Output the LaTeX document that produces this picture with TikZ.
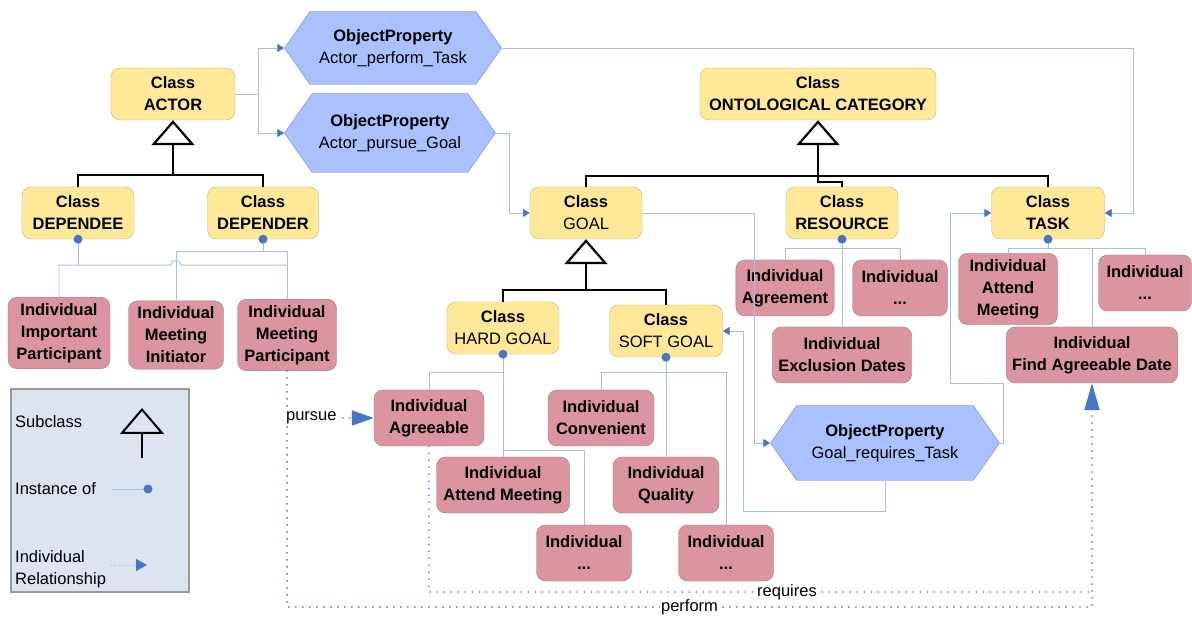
\documentclass[tikz,border=0pt]{standalone}
\usepackage{fontspec}
\setmainfont{Liberation Sans}
\usetikzlibrary{arrows.meta,shapes.symbols}

\definecolor{classfill}{RGB}{255,233,153}
\definecolor{classborder}{RGB}{196,178,108}
\definecolor{indfill}{RGB}{219,149,161}
\definecolor{indborder}{RGB}{160,118,126}
\definecolor{propfill}{RGB}{171,193,255}
\definecolor{propborder}{RGB}{112,136,200}
\definecolor{instline}{RGB}{168,192,232}
\definecolor{instdot}{RGB}{70,118,196}
\definecolor{legendfill}{RGB}{220,228,240}
\definecolor{legendborder}{RGB}{154,154,154}

\newcommand{\diagramfont}{\fontsize{16.5}{22}\selectfont}

\tikzstyle{class}=[draw=classborder,fill=classfill,rounded corners=9pt,align=center,
  minimum height=52pt,inner sep=4pt,font=\diagramfont\bfseries]
\tikzstyle{individual}=[draw=indborder,fill=indfill,rounded corners=9pt,align=center,
  minimum height=56pt,inner xsep=6pt,inner ysep=6pt,font=\diagramfont\bfseries]
\tikzstyle{property}=[signal,signal to=east and west,signal pointer angle=110,
  draw=propborder,fill=propfill,align=center,inner sep=4pt,font=\diagramfont]
\tikzstyle{hierarchy}=[draw,line width=2.2pt]
\tikzstyle{subclass}=[draw,line width=2.2pt,-{Triangle[open,length=25pt,width=43pt]}]
\tikzstyle{instance}=[draw=instline,line width=0.9pt]
\tikzstyle{instance dot}=[fill=instdot]
\tikzstyle{relation}=[draw=instline,line width=0.9pt,-{Triangle[length=7pt,width=8pt,color=instdot]}]
\tikzstyle{individual relation}=[draw=instdot,line width=1.8pt,line cap=round,dash pattern=on 0pt off 7pt,
  -{Triangle[length=27pt,width=15pt,line cap=butt]}]
\tikzstyle{rel label}=[fill=white,inner sep=1pt,font=\diagramfont]
\tikzstyle{legend text}=[inner sep=0pt,align=left,font=\diagramfont]

\begin{document}
\begin{tikzpicture}[x=1pt,y=-1pt]
\useasboundingbox (0,0) rectangle (1192,617);

% classes
\foreach \pos/\name/\boxw/\txt in {{(173,94)/ACTOR/124/{Class\\ACTOR}},
    {(78,213)/DEPENDEE/112/{Class\\DEPENDEE}}, {(263,213)/DEPENDER/111/{Class\\DEPENDER}},
    {(818,94)/ONTO/236/{Class\\ONTOLOGICAL CATEGORY}},
    {(586,213)/GOAL/112/{Class\\\textmd{GOAL}}}, {(842,213)/RESOURCE/112/{Class\\RESOURCE}},
    {(1048,213)/TASK/113/{Class\\TASK}},
    {(503,328)/HARD/112/{Class\\\textmd{HARD GOAL}}}, {(666,331)/SOFT/113/{Class\\\textmd{SOFT GOAL}}}}{
  \node[class,minimum width=\boxw pt] (\name) at \pos {\txt};
}

% individuals
\foreach \pos/\name/\boxw/\txt in {{(59,333)/ImpPart/102/{Individual\\Important\\Participant}},
    {(176,335)/MeetInit/95/{Individual\\Meeting\\Initiator}},
    {(287,335)/MeetPart/99/{Individual\\Meeting\\Participant}},
    {(429,418)/Agreeable/110/{Individual\\Agreeable}},
    {(503,485)/AttendH/133/{Individual\\Attend Meeting}},
    {(584,553)/DotsH/95/{Individual\\...}},
    {(601,418)/Convenient/106/{Individual\\Convenient}},
    {(666,485)/Quality/106/{Individual\\Quality}},
    {(726,553)/DotsS/95/{Individual\\...}},
    {(785,288)/Agreement/98/{Individual\\Agreement}},
    {(900,288)/DotsR/95/{Individual\\...}},
    {(842,355)/Exclusion/139/{Individual\\Exclusion Dates}},
    {(1008,289)/AttendT/99/{Individual\\Attend\\Meeting}},
    {(1145,283)/DotsT/93/{Individual\\...}},
    {(1092,355)/FindDate/170/{Individual\\Find Agreeable Date}}}{
  \node[individual,minimum width=\boxw pt] (\name) at \pos {\txt};
}

% object properties
\foreach \pos/\name/\boxw/\boxh/\txt in {{(393,48)/PerfTask/217/73/Actor\_perform\_Task},
    {(390,133)/PursueGoal/211/79/Actor\_pursue\_Goal},
    {(885,443)/ReqTask/229/75/Goal\_requires\_Task}}{
  \node[property,minimum width=\boxw pt,minimum height=\boxh pt] (\name) at \pos
    {\textbf{ObjectProperty}\\\txt};
}

% subclass trees
\coordinate (actorjoin) at (173,175);
\coordinate (ontojoin) at (818,176);
\coordinate (goaljoin) at (586,290);
\draw[hierarchy] (DEPENDEE.north) |- (actorjoin) -| (DEPENDER.north);
\draw[subclass] (actorjoin) -- (ACTOR.south);
\draw[hierarchy] (GOAL.north) |- (ontojoin) -| (TASK.north);
\draw[hierarchy] (ontojoin) -- ++(0,6) -| (RESOURCE.north);
\draw[subclass] (ontojoin) -- (ONTO.south);
\draw[hierarchy] (HARD.north) |- (goaljoin) -| (SOFT.north);
\draw[subclass] (goaljoin) -- (GOAL.south);

% instance of
\draw[instance] (DEPENDEE.south) -- ++(0,26) coordinate (deejoin);
\draw[instance] (ImpPart.north) |- (deejoin) -- ([xshift=-5pt]MeetInit.north |- deejoin)
  arc (180:0:5pt) -- (MeetPart.north |- deejoin);
\draw[instance] (MeetInit.north) |- ([yshift=-12pt]DEPENDER.south) -| (MeetPart.north);
\draw[instance] (DEPENDER.south) -- ++(0,12);
\draw[instance] (HARD.south) -- (AttendH.north);
\draw[instance] (Agreeable.north) |- ([yshift=-18pt]HARD.south);
\draw[instance] ([yshift=6pt]AttendH.north) -| (DotsH.north);
\draw[instance] (SOFT.south) -- (Quality.north);
\draw[instance] (Convenient.north) |- ([yshift=-15pt]SOFT.south) -| (DotsS.north);
\draw[instance] (RESOURCE.south) -- (Exclusion.north);
\draw[instance] (Agreement.north) |- ([yshift=-9pt]RESOURCE.south) -| (DotsR.north);
\draw[instance] (TASK.south) -- ++(0,9) coordinate (taskjoin);
\draw[instance] (AttendT.north) |- (taskjoin) -- (FindDate.north |- taskjoin) -| (DotsT.north);
\draw[instance] (FindDate.north) -- (FindDate.north |- taskjoin);
\foreach \name in {DEPENDEE,DEPENDER,HARD,SOFT,RESOURCE,TASK}
  \fill[instance dot] (\name.south) circle (4.5pt);

% object property links
\draw[relation] (ACTOR.east) -- ++(23,0) |- (PerfTask.west);
\draw[relation] (ACTOR.east) -- ++(23,0) |- (PursueGoal.west);
\draw[relation] (PerfTask.east) -| ([xshift=29pt]TASK.east) -- (TASK.east);
\draw[relation] (PursueGoal.east) -- ++(14,0) |- (GOAL.west);
\draw[relation] (GOAL.east) -| ([xshift=-16pt]ReqTask.west) -- (ReqTask.west);
\draw[relation] (ReqTask.south) -- ++(0,31) -| ([xshift=21pt]SOFT.east) -- (SOFT.east);
\draw[relation] (ReqTask.east) -- ++(4,0) -- ++(0,-60) -| ([xshift=-41pt]TASK.west) -- (TASK.west);

% individual relationships
\coordinate (performturn) at (287,607);
\coordinate (requiresturn) at (429,592);
\draw[individual relation] (MeetPart.south) -- (performturn)
  -- node[rel label] {perform} (performturn -| FindDate.south) -- (FindDate.south);
\draw[individual relation,-] (Agreeable.south) -- (requiresturn)
  -- node[rel label,pos=0.54] {requires} (requiresturn -| FindDate.south);
\draw[individual relation,-{Triangle[length=22pt,width=15pt,line cap=butt]}] (MeetPart.south |- Agreeable.west)
  -- node[rel label,pos=0.28] {pursue} (Agreeable.west);

% legend
\node[draw=legendborder,fill=legendfill,line width=1.2pt,minimum width=178pt,minimum height=203pt]
  (legend) at (100,490.5) {};
\node[legend text,anchor=west] (legsubclass) at (15,422) {Subclass};
\node[legend text,anchor=west] (leginstance) at (15,489) {Instance of};
\node[legend text,anchor=west] (legrelation) at (15,569) {Individual\\Relationship};
\coordinate (legsubfrom) at (142,458);
\coordinate (legsubto) at (142,408);
\coordinate (leginstfrom) at (112,489);
\coordinate (leginstto) at (148,489);
\coordinate (legrelfrom) at (111,565);
\coordinate (legrelto) at (147,565);
\draw[line width=2pt,-{Triangle[open,length=26pt,width=44pt]}] (legsubfrom) -- (legsubto);
\draw[instance] (leginstfrom) -- (leginstto);
\fill[instance dot] (leginstto) circle (4.5pt);
\draw[draw=instline,line width=0.8pt,dash pattern=on 1pt off 1.5pt,
  -{Triangle[length=11pt,width=12pt,color=instdot]}] (legrelfrom) -- (legrelto);
\end{tikzpicture}
\end{document}
